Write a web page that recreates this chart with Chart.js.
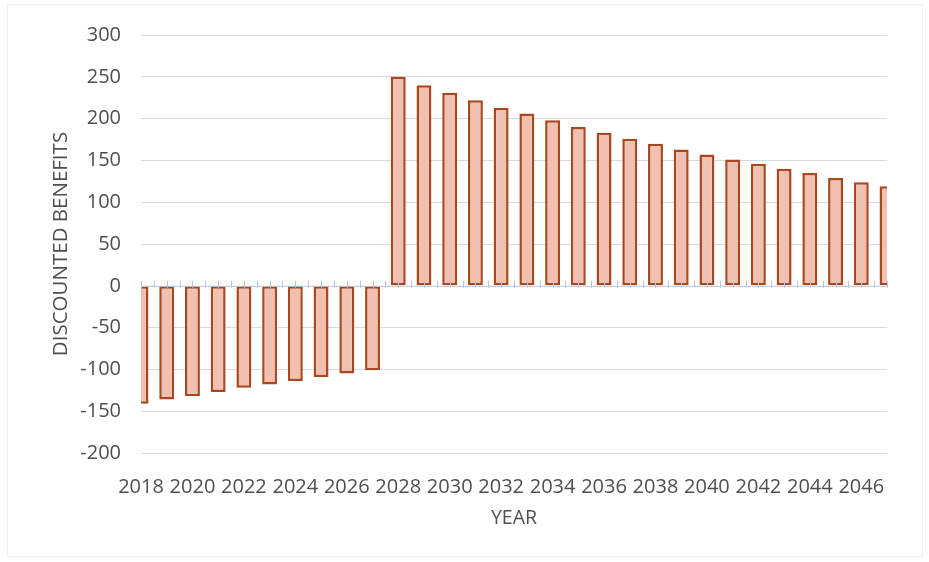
<!DOCTYPE html>
<html>
<head>
<meta charset="utf-8">
<script src="https://cdn.jsdelivr.net/npm/chart.js@4"></script>
<style>
  html, body { margin: 0; padding: 0; background: #ffffff; }
  #wrap { width: 929px; height: 562px; position: relative; }
</style>
</head>
<body>
<div id="wrap"><canvas id="c" width="929" height="562"></canvas></div>
<script>
// Years shown on the category axis
const years = [];
for (let y = 2018; y <= 2047; y++) years.push(String(y));

// Discounted benefits per year (negative = construction-period costs)
const benefits = [
  -141, -136, -132, -127, -122, -118, -114, -109, -105, -101,
   250,  240,  231,  222,  213,  206,  198,  190,  183,  176,
   170,  163,  157,  151,  146,  140,  135,  129,  124,  119
];

// Value-axis range and step
const yMin = -200;
const yMax = 300;
const yStep = 50;

const textColor = '#4f4f4f';
const fontFamily = '"Open Sans", "Liberation Sans", sans-serif';

// Short tick marks along the zero line, at each year and halfway between
const zeroTicks = {
  id: 'zeroTicks',
  afterDatasetsDraw(chart) {
    const { ctx, scales: { x, y } } = chart;
    const y0 = y.getPixelForValue(0);
    const half = (x.getPixelForValue(1) - x.getPixelForValue(0)) / 2;
    ctx.save();
    ctx.strokeStyle = '#b7c3dc';
    ctx.lineWidth = 1;
    ctx.beginPath();
    ctx.moveTo(chart.chartArea.left, y0 + 0.5);
    ctx.lineTo(chart.chartArea.right, y0 + 0.5);
    for (let i = 0; i < years.length; i++) {
      const px = x.getPixelForValue(i);
      for (const p of [px, px + half]) {
        if (p > chart.chartArea.right + 0.5) continue;
        ctx.moveTo(Math.round(p) + 0.5, y0 - 5);
        ctx.lineTo(Math.round(p) + 0.5, y0 + 2);
      }
    }
    ctx.stroke();
    ctx.restore();
  }
};

// Faint outer frame of the chart
const frame = {
  id: 'frame',
  beforeDraw(chart) {
    const { ctx } = chart;
    ctx.save();
    ctx.fillStyle = '#ffffff';
    ctx.fillRect(0, 0, chart.width, chart.height);
    ctx.strokeStyle = '#efefef';
    ctx.lineWidth = 1;
    ctx.strokeRect(7.5, 4.5, chart.width - 14, chart.height - 10);
    ctx.restore();
  }
};

new Chart(document.getElementById('c'), {
  type: 'bar',
  data: {
    labels: years,
    datasets: [{
      data: benefits,
      backgroundColor: '#f0c0b1',
      borderColor: '#a9481f',
      borderWidth: 2.5,
      borderSkipped: false,
      categoryPercentage: 1.0,
      barPercentage: 0.58
    }]
  },
  options: {
    responsive: false,
    animation: false,
    layout: { padding: { top: 35, right: 42, bottom: 0, left: 0 } },
    plugins: {
      legend: { display: false },
      tooltip: { enabled: false }
    },
    scales: {
      x: {
        offset: false,
        grid: { display: false, drawTicks: false },
        border: { display: false },
        ticks: {
          autoSkip: false,
          maxRotation: 0,
          padding: 22,
          color: textColor,
          font: { family: fontFamily, size: 20 },
          callback: (v, i) => (i % 2 === 0 ? years[i] : '')
        },
        title: {
          display: true,
          text: 'YEAR',
          color: textColor,
          font: { family: fontFamily, size: 19.5 },
          padding: { top: 0, bottom: 32 }
        },
        afterFit(scale) { scale.height = 109; }
      },
      y: {
        min: yMin,
        max: yMax,
        grid: {
          drawTicks: false,
          color: (c) => (c.tick && c.tick.value === 0 ? 'rgba(0,0,0,0)' : '#d9d9e6'),
          lineWidth: 1
        },
        border: { display: false },
        ticks: {
          stepSize: yStep,
          padding: 20,
          color: textColor,
          font: { family: fontFamily, size: 20 }
        },
        title: {
          display: true,
          text: 'DISCOUNTED BENEFITS',
          color: textColor,
          font: { family: fontFamily, size: 20.5 },
          padding: { top: 49, bottom: 0 }
        },
        afterFit(scale) { scale.width = 141; }
      }
    }
  },
  plugins: [frame, zeroTicks]
});
</script>
</body>
</html>
